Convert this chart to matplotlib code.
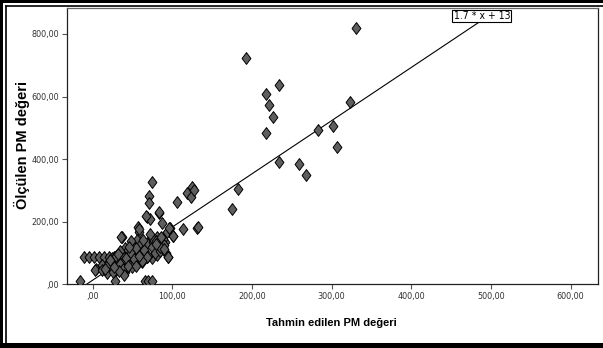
import matplotlib
matplotlib.use("Agg")
import matplotlib.pyplot as plt
from matplotlib import font_manager
from matplotlib.lines import Line2D
from matplotlib.patches import Rectangle

# Tahmin edilen (x) / Olculen (y) PM degerleri, okunan yaklasik degerler
tahmin = [
    -15.8, -10.8, -4.1, 2.1, 8.4, 14.7, 21.0, 27.3, 4.3, 3.0,
    12.2, 12.2, 18.5, 24.0, 28.0, 24.0, 28.0, 32.3, 36.4, 30.0,
    34.4, 40.6, 42.7, 38.5, 44.8, 36.4, 40.6, 44.8, 49.0, 50.2,
    53.2, 49.0, 57.4, 58.5, 55.3, 59.5, 61.6, 63.7, 67.9, 67.9,
    72.0, 70.8, 70.8, 75.0, 67.9, 74.0, 78.4, 80.5, 83.9, 76.3,
    80.5, 86.8, 88.9, 91.0, 95.2, 93.0, 97.3, 100.6, 105.5, 113.3,
    125.0, 119.0, 123.0, 127.0, 130.7, 132.0, 28.0, 65.8, 70.0, 74.0,
    20.0, 25.0, 18.0, 30.0, 35.0, 38.0, 42.0, 45.0, 48.0, 52.0,
    55.0, 60.0, 62.0, 65.0, 70.0, 75.0, 78.0, 82.0, 85.0, 88.0,
    90.0, 92.0, 55.0, 40.0, 33.0, 27.0, 15.0, 35.0, 48.0, 57.8,
    74.0, 80.0, 84.6, 89.6, 94.6, 68.0, 61.6, 83.3, 66.6, 35.6,
    46.0, 58.0, 63.0, 86.0, 95.5, 101.0, 72.0, 79.0, 22.0, 32.0,
    175.0, 183.0, 192.8, 218.0, 221.0, 226.0, 218.0, 234.0, 234.0, 258.6,
    267.8, 283.0, 302.0, 306.6, 323.0, 330.0,
]
olculen = [
    10.0, 88.0, 88.0, 88.0, 88.0, 88.0, 88.0, 88.0, 48.0, 46.0,
    62.0, 46.0, 35.0, 51.0, 67.0, 83.0, 88.0, 77.0, 93.0, 46.0,
    56.0, 40.0, 56.0, 72.0, 83.0, 152.0, 115.0, 109.0, 125.0, 99.0,
    77.0, 56.0, 184.0, 168.0, 141.0, 125.0, 104.0, 83.0, 131.0, 216.0,
    210.0, 282.0, 259.0, 328.0, 86.0, 83.0, 109.0, 93.0, 229.0, 136.0,
    152.0, 195.0, 120.0, 136.0, 88.0, 168.0, 179.0, 155.0, 262.0, 176.0,
    312.0, 291.0, 280.0, 300.0, 181.0, 184.0, 10.0, 10.0, 10.0, 10.0,
    70.0, 40.0, 60.0, 90.0, 65.0, 50.0, 85.0, 60.0, 100.0, 80.0,
    115.0, 95.0, 70.0, 110.0, 90.0, 120.0, 100.0, 130.0, 105.0, 145.0,
    125.0, 100.0, 60.0, 30.0, 42.0, 55.0, 48.0, 105.0, 139.0, 176.0,
    147.0, 138.0, 120.0, 113.0, 88.0, 88.0, 75.0, 232.0, 219.0, 152.0,
    118.0, 92.0, 140.0, 150.0, 179.0, 154.0, 160.0, 128.0, 78.0, 98.0,
    240.0, 304.0, 722.0, 608.0, 573.0, 536.0, 485.0, 636.0, 391.0, 383.0,
    349.0, 492.0, 506.0, 438.0, 582.0, 819.0,
]

egim, kesisim = 1.7, 13.0
cizgi_x = [-7.6, 485.0]

x_ticks = [0, 100, 200, 300, 400, 500, 600]
y_ticks = [0, 200, 400, 600, 800]

W, H = 603, 348
fig = plt.figure(figsize=(W / 100, H / 100), dpi=100)
ax = fig.add_axes([66.7 / W, 1 - 284.3 / H, (597.7 - 66.7) / W, (284.3 - 8) / H])

# dar yazi: varsa DejaVu Sans Condensed
narrow = font_manager.FontProperties(family="DejaVu Sans", stretch="condensed", size=6.5)
narrow_box = font_manager.FontProperties(family="DejaVu Sans", stretch="condensed", size=7.5)
bold_fam = ["Liberation Sans", "DejaVu Sans"]

diamond = [(0, 1), (0.75, 0), (0, -1), (-0.75, 0), (0, 1)]
ax.plot(tahmin, olculen, linestyle="none", marker=diamond, markersize=8.5,
        markerfacecolor="#5e5e5e", markeredgecolor="black", markeredgewidth=0.7,
        zorder=3)

ax.plot(cizgi_x, [egim * v + kesisim for v in cizgi_x], color="black",
        linewidth=0.8, zorder=2)
ax.text(488.6, 857.5, "1.7 * x + 13", ha="center", va="center",
        fontproperties=narrow_box,
        bbox=dict(boxstyle="square,pad=0.12", facecolor="white",
                  edgecolor="black", linewidth=0.8), zorder=4)

ax.set_xlim(-32.5, 634)
ax.set_ylim(0, 883)
ax.set_xticks(x_ticks)
ax.set_yticks(y_ticks)
fmt = lambda v: (",00" if v == 0 else f"{v},00")
ax.set_xticklabels([fmt(v) for v in x_ticks], fontproperties=narrow, color="#333333")
ax.set_yticklabels([fmt(v) for v in y_ticks], fontproperties=narrow, color="#333333")
ax.tick_params(direction="out", length=3.5, width=0.8, color="#555555", pad=2)
for s in ax.spines.values():
    s.set_linewidth(0.9)
    s.set_color("#222222")
ax.spines["top"].set_color("#666666")

fig.text(331.7 / W, 1 - 323 / H, "Tahmin edilen PM değeri", ha="center", va="center",
         fontsize=8, fontweight="bold", family=bold_fam)
fig.text(22 / W, 1 - 145 / H, "Ölçülen PM değeri", ha="center", va="center",
         rotation=90, fontsize=10.5, fontweight="bold", family=bold_fam)

# cerceve
fig.add_artist(Rectangle((0, 0), 3.5 / W, 1, transform=fig.transFigure,
                         facecolor="black", edgecolor="none"))
fig.add_artist(Rectangle((0, 1 - 3 / H), 1, 3 / H, transform=fig.transFigure,
                         facecolor="black", edgecolor="none"))
fig.add_artist(Rectangle((0, 0), 1, 5 / H, transform=fig.transFigure,
                         facecolor="black", edgecolor="none"))
fig.add_artist(Line2D([5.5 / W, 5.5 / W], [0, 1 - 5.5 / H], transform=fig.transFigure,
                      color="black", linewidth=1.2))
fig.add_artist(Line2D([5.5 / W, 1], [1 - 5.5 / H, 1 - 5.5 / H], transform=fig.transFigure,
                      color="black", linewidth=1.2))

fig.savefig("out.png", dpi=100)
